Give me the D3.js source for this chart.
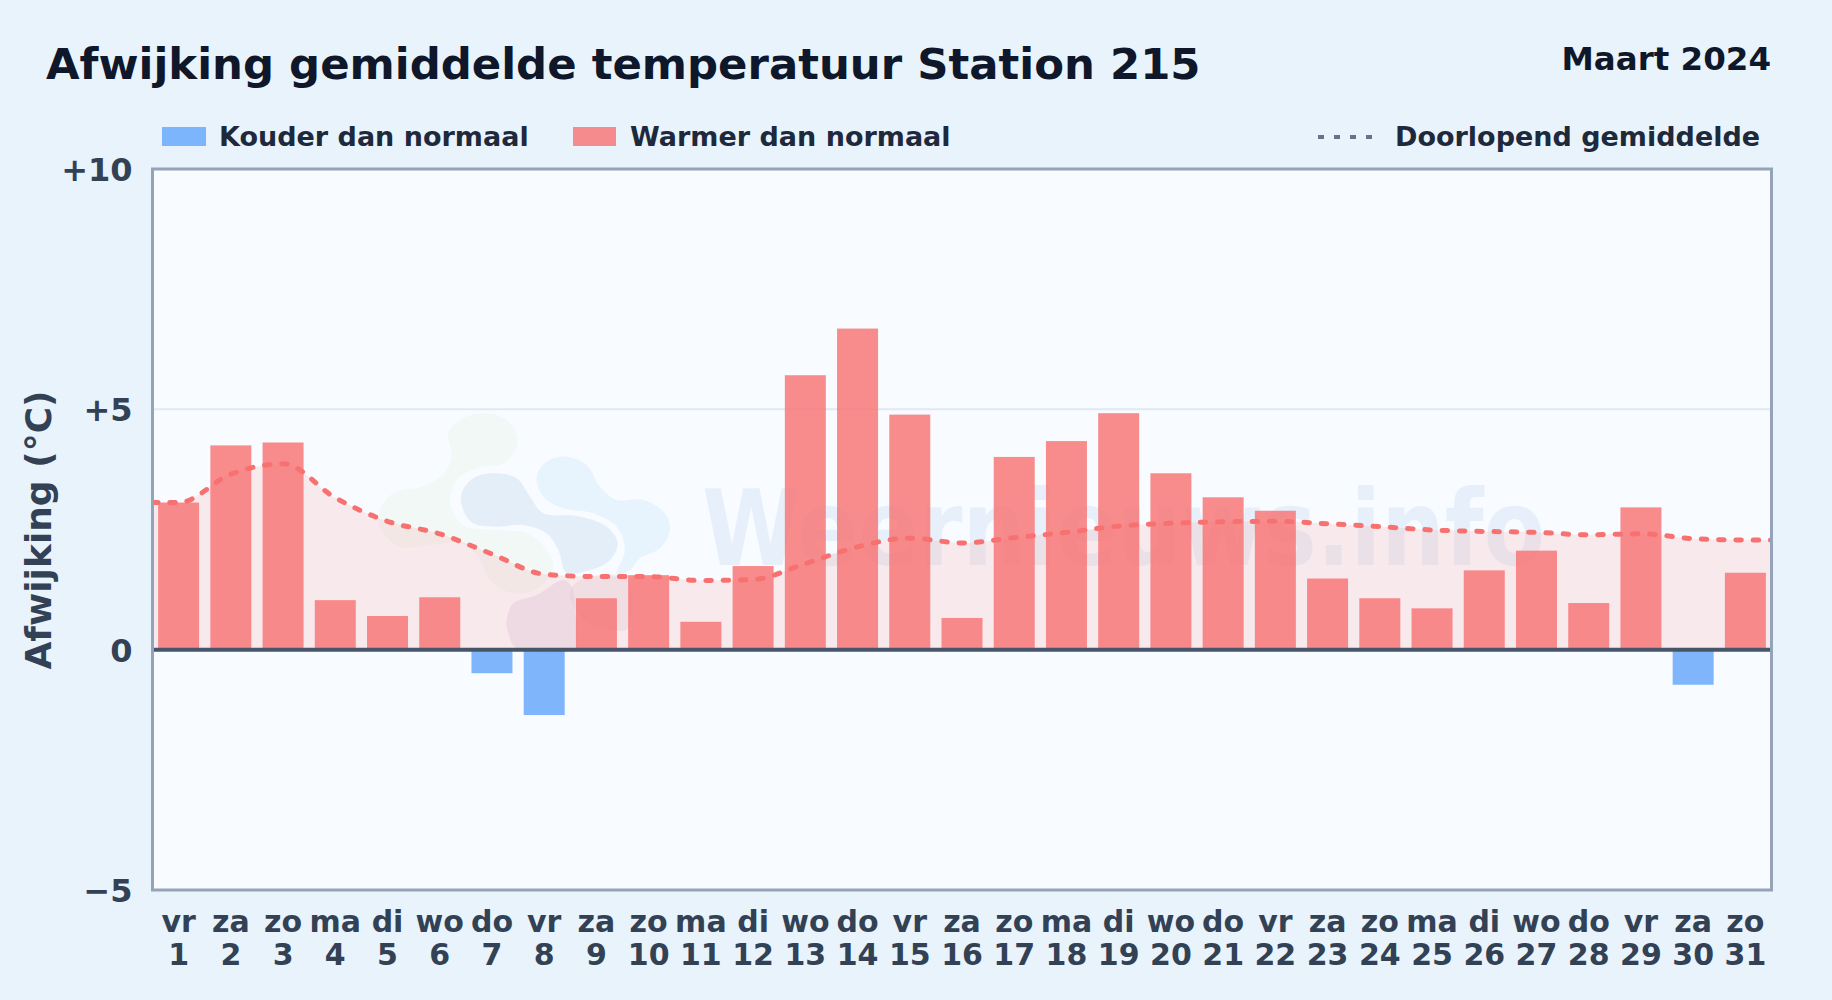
<!DOCTYPE html>
<html>
<head>
<meta charset="utf-8">
<script src="https://cdn.jsdelivr.net/npm/d3@7"></script>
<style>
  html, body { margin: 0; padding: 0; background: #e8f3fc; }
  svg { display: block; font-family: "DejaVu Sans", sans-serif; font-weight: 700; }
</style>
</head>
<body>
<svg id="chart" width="1832" height="1000"></svg>
<script>
var dayNames = ['vr','za','zo','ma','di','wo','do','vr','za','zo','ma','di','wo','do','vr','za','zo','ma','di','wo','do','vr','za','zo','ma','di','wo','do','vr','za','zo'];
var dayNumbers = [1,2,3,4,5,6,7,8,9,10,11,12,13,14,15,16,17,18,19,20,21,22,23,24,25,26,27,28,29,30,31];
var deviation = [3.06,4.25,4.31,1.03,0.70,1.09,-0.49,-1.36,1.07,1.55,0.58,1.74,5.71,6.68,4.89,0.66,4.01,4.34,4.92,3.67,3.17,2.89,1.48,1.07,0.86,1.65,2.06,0.97,2.96,-0.73,1.60];
var runningMean = [3.06,3.65,3.87,3.16,2.67,2.41,1.99,1.57,1.52,1.52,1.44,1.46,1.79,2.14,2.32,2.22,2.33,2.44,2.57,2.63,2.66,2.67,2.62,2.56,2.49,2.46,2.44,2.39,2.41,2.31,2.28];
var yTicks = [-5,0,5,10];

var margin = { top: 169, right: 60.5, bottom: 110, left: 152.5 },
    width = 1832 - margin.left - margin.right,
    height = 1000 - margin.top - margin.bottom;

var svg = d3.select('#chart');
var plot = svg.append('g').attr('transform', 'translate(' + margin.left + ',' + margin.top + ')');

var x = d3.scaleBand().domain(dayNumbers).range([0, width]).paddingInner(0.215).paddingOuter(0.1075);
var y = d3.scaleLinear().domain([-5, 10]).range([height, 0]);

svg.append('clipPath').attr('id', 'plot-clip').append('rect').attr('width', width).attr('height', height);

plot.append('rect').attr('width', width).attr('height', height).attr('fill', '#f8fbff');

// watermark logo, faint blobs behind everything
function drawLogo() {
  var logo = plot.append('g').attr('transform', 'translate(' + (350 - margin.left) + ',' + (390 - margin.top) + ') scale(0.3333)');
  var blob = d3.line().curve(d3.curveCatmullRomClosed.alpha(0.5));
  var shapes = [
    { fill: '#dcefcf', op: 0.2, pts: [[295,130],[330,90],[400,70],[470,90],[503,150],[470,215],[380,235],[320,270],[300,340],[340,405],[440,420],[530,430],[590,480],[610,530],[570,590],[490,610],[420,570],[385,500],[330,460],[240,465],[150,470],[95,420],[90,360],[130,310],[230,285],[290,240],[305,190]] },
    { fill: '#b6d0ea', op: 0.3, pts: [[335,310],[370,265],[430,250],[500,265],[540,320],[580,370],[680,378],[770,410],[803,460],[775,515],[700,545],[650,550],[625,480],[590,430],[520,405],[440,410],[370,400],[340,360]] },
    { fill: '#bfe3fb', op: 0.3, pts: [[560,260],[590,215],[650,200],[710,225],[750,290],[800,330],[880,330],[945,370],[960,420],[930,475],[870,505],[840,540],[800,552],[825,480],[800,410],[730,370],[640,355],[580,320]] },
    { fill: '#d4c3d8', op: 0.3, pts: [[470,690],[490,640],[560,615],[640,570],[665,590],[675,660],[675,775],[500,775],[475,730]] },
    { fill: '#e2d2dc', op: 0.3, pts: [[660,610],[690,570],[830,565],[835,715],[800,722],[700,690]] }
  ];
  logo.selectAll('path').data(shapes).enter().append('path')
    .attr('d', function(d) { return blob(d.pts); })
    .attr('fill', function(d) { return d.fill; })
    .attr('opacity', function(d) { return d.op; });
}
drawLogo();

plot.append('text')
  .attr('x', 702 - margin.left).attr('y', 565 - margin.top)
  .attr('font-size', 105)
  .attr('textLength', 843).attr('lengthAdjust', 'spacingAndGlyphs')
  .attr('fill', '#2f7fc4').attr('opacity', 0.08)
  .text('Weernieuws.info');

// grid line on +5
plot.append('line').attr('x1', 0).attr('x2', width).attr('y1', y(5)).attr('y2', y(5))
  .attr('stroke', '#e2e8f0').attr('stroke-width', 2);

// running mean: stretched flat to both plot edges
var meanPoints = runningMean.map(function(v, i) { return [x(dayNumbers[i]) + x.bandwidth() / 2, v]; });
meanPoints.unshift([0, runningMean[0]]);
meanPoints.push([width, runningMean[runningMean.length - 1]]);

var area = d3.area().curve(d3.curveMonotoneX)
  .x(function(d) { return d[0]; }).y0(y(0)).y1(function(d) { return y(d[1]); });
var line = d3.line().curve(d3.curveMonotoneX)
  .x(function(d) { return d[0]; }).y(function(d) { return y(d[1]); });

plot.append('path').attr('d', area(meanPoints)).attr('fill', '#f87171').attr('opacity', 0.13);

plot.selectAll('.bar').data(deviation).enter().append('rect')
  .attr('class', 'bar')
  .attr('x', function(d, i) { return x(dayNumbers[i]); })
  .attr('width', x.bandwidth())
  .attr('y', function(d) { return y(Math.max(d, 0)); })
  .attr('height', function(d) { return Math.abs(y(d) - y(0)); })
  .attr('fill', function(d) { return d < 0 ? '#60a5fa' : '#f87171'; })
  .attr('opacity', 0.8);

plot.append('path').attr('d', line(meanPoints))
  .attr('clip-path', 'url(#plot-clip)')
  .attr('fill', 'none').attr('stroke', '#f87171').attr('stroke-width', 5)
  .attr('stroke-linecap', 'round').attr('stroke-dasharray', '5.5 11.8');

// zero line + frame
plot.append('line').attr('x1', 0).attr('x2', width).attr('y1', y(0)).attr('y2', y(0))
  .attr('stroke', '#475569').attr('stroke-width', 4);
plot.append('rect').attr('width', width).attr('height', height)
  .attr('fill', 'none').attr('stroke', '#94a3b8').attr('stroke-width', 3);

// axes
var yAxis = d3.axisLeft(y).tickValues(yTicks).tickSize(0).tickPadding(20)
  .tickFormat(function(d) { return d > 0 ? '+' + d : d < 0 ? '\u2212' + Math.abs(d) : '0'; });
var yG = plot.append('g').call(yAxis);
yG.select('.domain').remove();
yG.selectAll('text').attr('font-size', 32).attr('font-family', '"DejaVu Sans"').attr('fill', '#334155').attr('dy', '0.36em');

var xAxis = d3.axisBottom(x).tickSize(0).tickFormat('');
var xG = plot.append('g').attr('transform', 'translate(0,' + height + ')').call(xAxis);
xG.select('.domain').remove();
xG.selectAll('.tick text').each(function(d, i) {
  var t = d3.select(this).attr('y', 0).attr('dy', null)
    .attr('font-size', 30).attr('font-family', '"DejaVu Sans"').attr('fill', '#334155');
  t.append('tspan').attr('x', 0).attr('y', 42).text(dayNames[i]);
  t.append('tspan').attr('x', 0).attr('y', 75).text(d);
});

svg.append('text').attr('transform', 'translate(51,530) rotate(-90)')
  .attr('text-anchor', 'middle').attr('font-size', 36).attr('fill', '#334155')
  .text('Afwijking (\u00b0C)');

// header
svg.append('text').attr('x', 46).attr('y', 79).attr('font-size', 43.4).attr('fill', '#0f172a')
  .text('Afwijking gemiddelde temperatuur Station 215');
svg.append('text').attr('x', 1771).attr('y', 70).attr('text-anchor', 'end').attr('font-size', 32.5).attr('fill', '#0f172a')
  .text('Maart 2024');

// legend
var legend = svg.append('g').attr('font-size', 27).attr('fill', '#1e293b');
legend.append('rect').attr('x', 162).attr('y', 127).attr('width', 44).attr('height', 19).attr('fill', '#60a5fa').attr('opacity', 0.8);
legend.append('text').attr('x', 219).attr('y', 146).text('Kouder dan normaal');
legend.append('rect').attr('x', 573).attr('y', 127).attr('width', 43).attr('height', 19).attr('fill', '#f87171').attr('opacity', 0.8);
legend.append('text').attr('x', 630).attr('y', 146).text('Warmer dan normaal');
legend.append('line').attr('x1', 1318).attr('x2', 1373).attr('y1', 137).attr('y2', 137)
  .attr('stroke', '#64748b').attr('stroke-width', 4).attr('stroke-dasharray', '6 10');
legend.append('text').attr('x', 1395).attr('y', 146).text('Doorlopend gemiddelde');
</script>
</body>
</html>
